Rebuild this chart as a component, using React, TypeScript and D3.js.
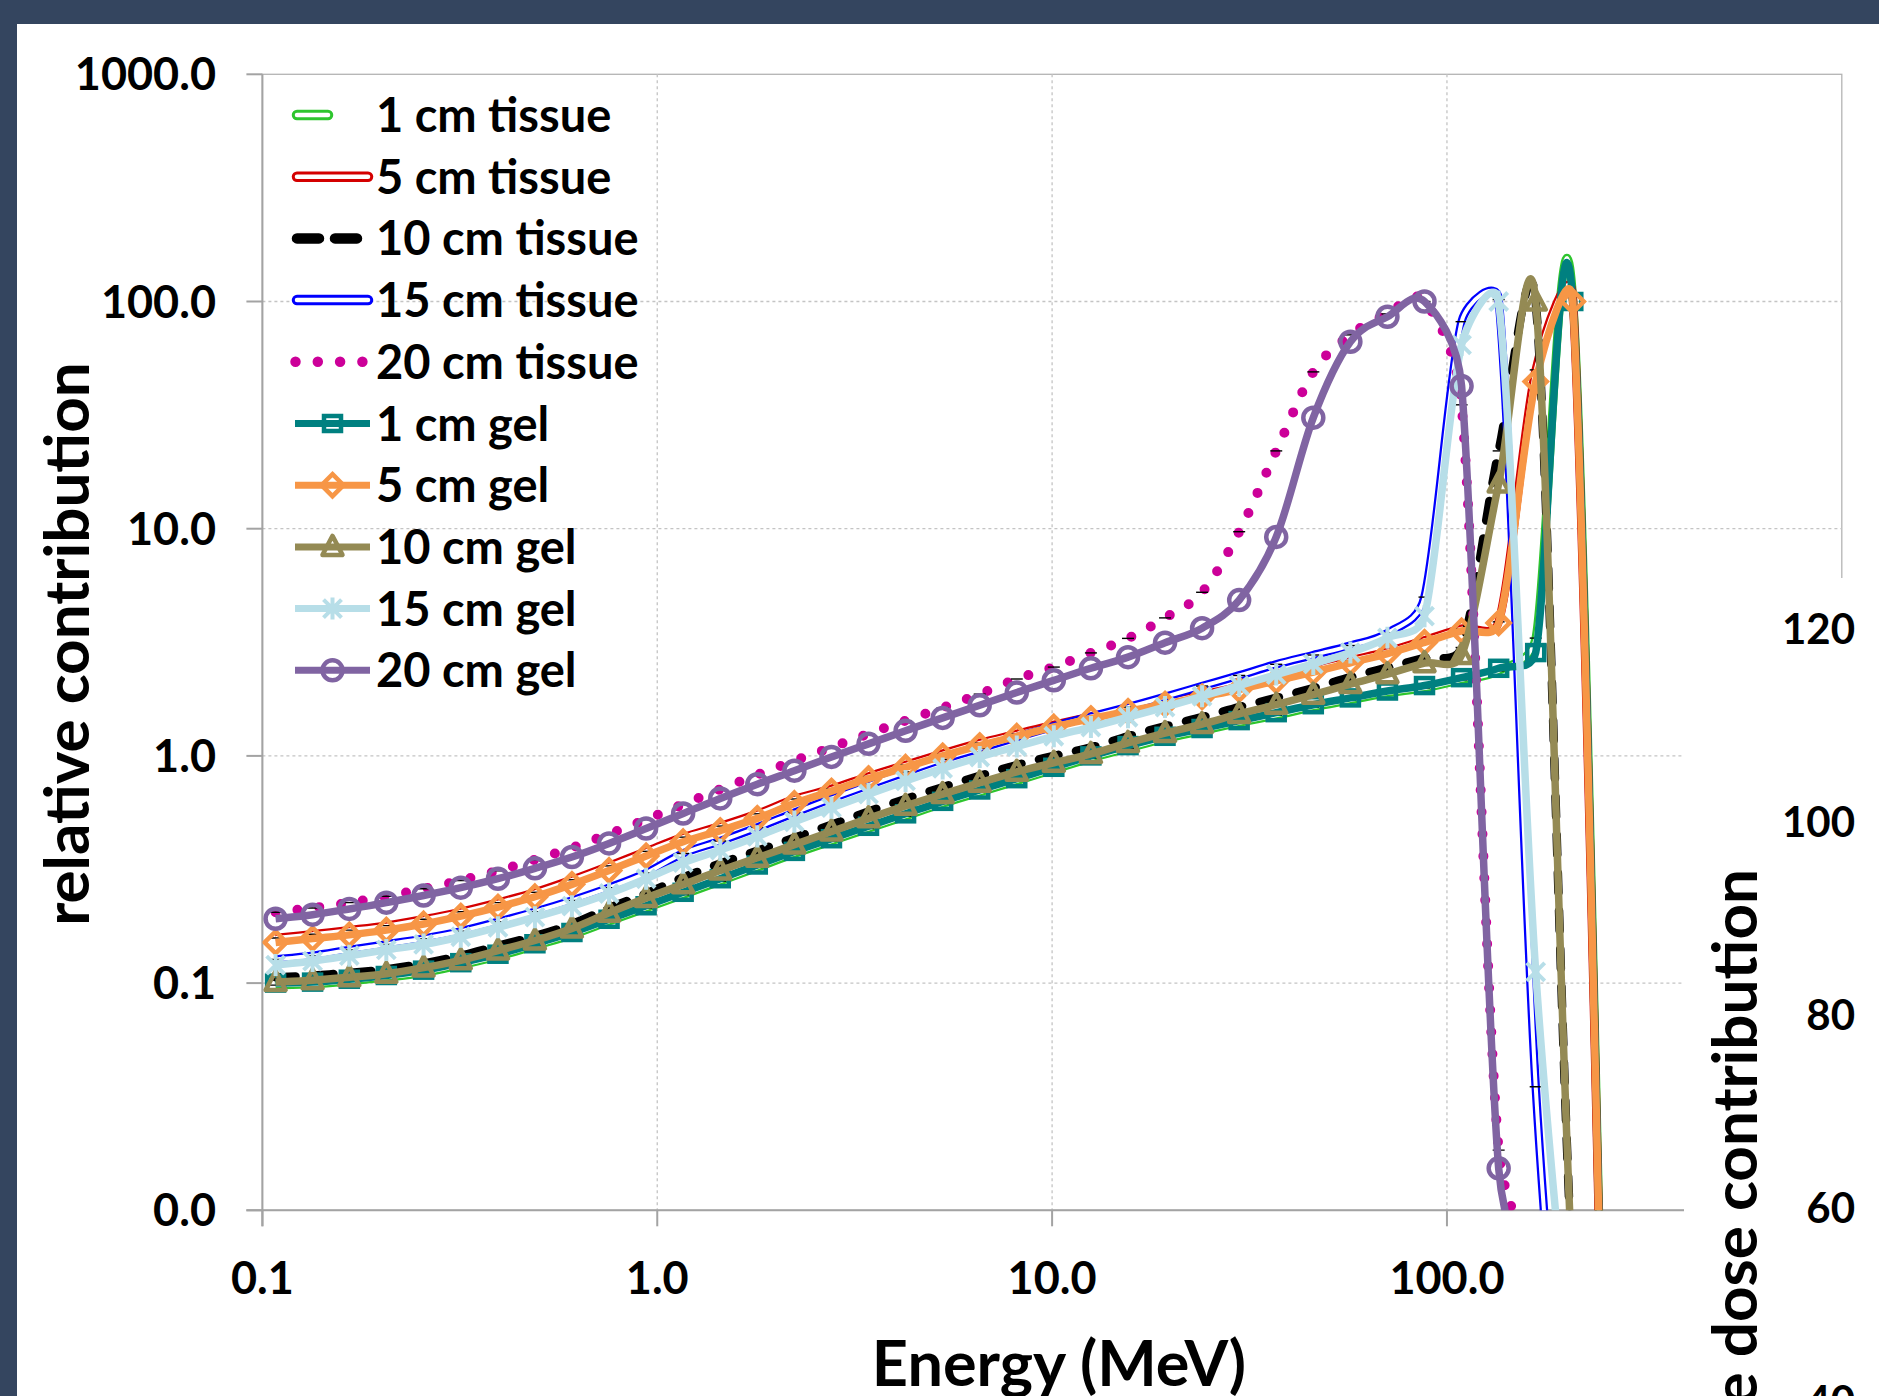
import { useEffect, useRef } from 'react';
import * as d3 from 'd3';

// energy bins (MeV), one point per bin
const energies = [0.108, 0.134, 0.166, 0.206, 0.256, 0.318, 0.395, 0.49, 0.608, 0.755,
  0.937, 1.163, 1.444, 1.792, 2.225, 2.762, 3.428, 4.255, 5.282, 6.556,
  8.138, 10.1, 12.54, 15.57, 19.32, 23.98, 29.77, 36.95, 45.87, 56.94,
  70.68, 87.73, 108.9, 135.2, 167.8, 208.3, 258.5];

const tissue1 = [0.098, 0.099, 0.102, 0.106, 0.111, 0.12, 0.131, 0.146, 0.163, 0.187,
  0.214, 0.245, 0.281, 0.323, 0.371, 0.422, 0.479, 0.543, 0.617, 0.692,
  0.776, 0.871, 0.977, 1.08, 1.19, 1.29, 1.4, 1.51, 1.64, 1.76,
  1.89, 1.99, 2.16, 2.37, 3.3, 105, 0.00007];
const tissue5 = [0.158, 0.164, 0.171, 0.179, 0.191, 0.206, 0.226, 0.251, 0.285, 0.328,
  0.38, 0.439, 0.491, 0.556, 0.646, 0.716, 0.812, 0.912, 1.023, 1.14,
  1.25, 1.37, 1.49, 1.61, 1.73, 1.86, 2.01, 2.19, 2.39, 2.63,
  2.88, 3.23, 3.63, 3.89, 50, 105, 0.00007];
const tissue10 = [0.106, 0.108, 0.111, 0.115, 0.122, 0.132, 0.146, 0.161, 0.182, 0.214,
  0.248, 0.292, 0.336, 0.382, 0.436, 0.498, 0.569, 0.646, 0.728, 0.817,
  0.912, 1.0, 1.09, 1.22, 1.35, 1.48, 1.64, 1.8, 1.99, 2.22,
  2.45, 2.7, 3.0, 22, 100, 0.005, 0.0001];
const tissue15 = [0.127, 0.132, 0.14, 0.148, 0.157, 0.169, 0.186, 0.206, 0.231, 0.263,
  0.305, 0.372, 0.422, 0.484, 0.562, 0.649, 0.744, 0.85, 0.966, 1.08,
  1.21, 1.35, 1.49, 1.64, 1.82, 2.03, 2.26, 2.53, 2.78, 3.06,
  3.47, 5.0, 81.5, 102, 0.035, 0.0003];
const tissue20 = [0.205, 0.214, 0.226, 0.241, 0.26, 0.283, 0.312, 0.349, 0.394, 0.453,
  0.525, 0.612, 0.713, 0.826, 0.951, 1.09, 1.25, 1.43, 1.63, 1.87,
  2.18, 2.46, 2.84, 3.29, 4.05, 5.25, 9.7, 22, 49, 71.3,
  88.2, 100, 35.1, 0.0184, 0.006];
const gel1 = [0.1, 0.101, 0.104, 0.108, 0.114, 0.123, 0.134, 0.149, 0.167, 0.191,
  0.219, 0.251, 0.288, 0.331, 0.38, 0.432, 0.49, 0.556, 0.631, 0.708,
  0.794, 0.891, 1.0, 1.11, 1.22, 1.32, 1.43, 1.55, 1.68, 1.8,
  1.93, 2.04, 2.21, 2.43, 2.85, 100, 0.00007];
const gel5 = [0.151, 0.157, 0.163, 0.171, 0.182, 0.197, 0.216, 0.24, 0.272, 0.313,
  0.363, 0.419, 0.469, 0.531, 0.617, 0.7, 0.794, 0.891, 1.0, 1.11,
  1.22, 1.34, 1.46, 1.57, 1.69, 1.82, 1.96, 2.14, 2.34, 2.57,
  2.82, 3.16, 3.55, 3.85, 44.4, 100, 0.00007];
const gel10 = [0.101, 0.103, 0.106, 0.11, 0.117, 0.126, 0.139, 0.154, 0.174, 0.204,
  0.237, 0.272, 0.313, 0.356, 0.407, 0.465, 0.531, 0.603, 0.679, 0.762,
  0.851, 0.933, 1.02, 1.14, 1.26, 1.38, 1.53, 1.68, 1.86, 2.07,
  2.29, 2.56, 2.78, 15.8, 100, 0.005, 0.0001];
const gel15 = [0.12, 0.125, 0.132, 0.14, 0.148, 0.16, 0.176, 0.195, 0.218, 0.248,
  0.288, 0.339, 0.385, 0.442, 0.513, 0.592, 0.679, 0.776, 0.881, 0.989,
  1.1, 1.22, 1.34, 1.48, 1.64, 1.83, 2.04, 2.28, 2.54, 2.85,
  3.31, 4.12, 64.4, 100, 0.112, 0.0016];
const gel20 = [0.192, 0.2, 0.212, 0.226, 0.243, 0.263, 0.288, 0.32, 0.359, 0.412,
  0.479, 0.558, 0.65, 0.751, 0.861, 0.99, 1.13, 1.29, 1.47, 1.67,
  1.9, 2.15, 2.43, 2.72, 3.15, 3.65, 4.85, 9.2, 30.8, 66.5,
  85.7, 100, 42.5, 0.0153, 0.004];

const seriesNames = ['1 cm tissue', '5 cm tissue', '10 cm tissue', '15 cm tissue', '20 cm tissue',
  '1 cm gel', '5 cm gel', '10 cm gel', '15 cm gel', '20 cm gel'];
const seriesValues = [tissue1, tissue5, tissue10, tissue15, tissue20, gel1, gel5, gel10, gel15, gel20];

const xTickValues = [0.1, 1, 10, 100, 1000];
const xLabelValues = [0.1, 1, 10, 100];
const yTickValues = [0.01, 0.1, 1, 10, 100, 1000];
const rightTickValues = [40, 60, 80, 100, 120];

type Kind = 'double' | 'dash' | 'dot' | 'marker';
type SeriesStyle = { color: string; kind: Kind; marker?: string };

const seriesStyles: SeriesStyle[] = [
  { color: '#2ec52e', kind: 'double' },
  { color: '#d40000', kind: 'double' },
  { color: '#000000', kind: 'dash' },
  { color: '#0000ff', kind: 'double' },
  { color: '#cc0099', kind: 'dot' },
  { color: '#008080', kind: 'marker', marker: 'square' },
  { color: '#f79646', kind: 'marker', marker: 'diamond' },
  { color: '#948a54', kind: 'marker', marker: 'triangle' },
  { color: '#b7dee8', kind: 'marker', marker: 'star' },
  { color: '#8064a2', kind: 'marker', marker: 'circle' },
];

const W = 1879;
const H = 1396;
const FONT = 'Lato, "Open Sans", sans-serif';

// Excel-like smoothed line: cubic Bezier with (next - prev) / 6 tangents,
// each control arm capped at half of its segment's length
function smoothPath(pts: [number, number][]): string {
  const p = d3.path();
  const n = pts.length;
  if (!n) return '';
  const tan = pts.map((_, i) => {
    const a = pts[Math.max(0, i - 1)];
    const b = pts[Math.min(n - 1, i + 1)];
    return [(b[0] - a[0]) / 6, (b[1] - a[1]) / 6];
  });
  p.moveTo(pts[0][0], pts[0][1]);
  for (let i = 0; i < n - 1; i++) {
    const P0 = pts[i], P1 = pts[i + 1];
    const len = Math.hypot(P1[0] - P0[0], P1[1] - P0[1]);
    const cap = (t: number[]) => {
      const m = Math.hypot(t[0], t[1]);
      const s = m > 0.5 * len ? (0.5 * len) / m : 1;
      return [t[0] * s, t[1] * s];
    };
    const t0 = cap(tan[i]);
    const t1 = cap(tan[i + 1]);
    p.bezierCurveTo(P0[0] + t0[0], P0[1] + t0[1], P1[0] - t1[0], P1[1] - t1[1], P1[0], P1[1]);
  }
  return p.toString();
}

function drawMarker(g: any, type: string, cx: number, cy: number, color: string) {
  const sw = 4.5;
  if (type === 'square') {
    g.append('rect').attr('x', cx - 8.5).attr('y', cy - 7.5).attr('width', 17).attr('height', 15)
      .attr('fill', 'none').attr('stroke', color).attr('stroke-width', sw);
  } else if (type === 'diamond') {
    g.append('path').attr('d', `M${cx},${cy - 11}L${cx + 11},${cy}L${cx},${cy + 11}L${cx - 11},${cy}Z`)
      .attr('fill', 'none').attr('stroke', color).attr('stroke-width', sw);
  } else if (type === 'triangle') {
    g.append('path').attr('d', `M${cx},${cy - 11}L${cx + 10},${cy + 8}L${cx - 10},${cy + 8}Z`)
      .attr('fill', 'none').attr('stroke', color).attr('stroke-width', sw).attr('stroke-linejoin', 'round');
  } else if (type === 'star') {
    g.append('path')
      .attr('d', `M${cx - 9},${cy - 9}L${cx + 9},${cy + 9}M${cx - 9},${cy + 9}L${cx + 9},${cy - 9}M${cx},${cy - 11}L${cx},${cy + 11}`)
      .attr('fill', 'none').attr('stroke', color).attr('stroke-width', 4);
  } else if (type === 'circle') {
    g.append('circle').attr('cx', cx).attr('cy', cy).attr('r', 10)
      .attr('fill', 'none').attr('stroke', color).attr('stroke-width', sw);
  }
}

export default function App() {
  const svgRef = useRef<SVGSVGElement>(null);

  useEffect(() => {
    if (!svgRef.current) return;
    const svg = d3.select(svgRef.current);
    svg.selectAll('*').remove();

    const left = 262.4, right = 1841.8, top = 74.3, bottom = 1210.3;
    const x = d3.scaleLog().domain([0.1, 1000]).range([left, right]);
    const y = d3.scaleLog().domain([0.01, 1000]).range([bottom, top]);
    const fmt = d3.format('.1f');

    // slide background
    svg.append('rect').attr('width', W).attr('height', H).attr('fill', '#34455f');
    svg.append('rect').attr('x', 17).attr('y', 24).attr('width', W - 17).attr('height', H - 24).attr('fill', '#ffffff');

    // plot border + grid
    svg.append('rect').attr('x', left).attr('y', top).attr('width', right - left).attr('height', bottom - top)
      .attr('fill', 'none').attr('stroke', '#b4b4b4').attr('stroke-width', 1.3);
    svg.append('g').selectAll('line').data(yTickValues.slice(1, -1)).enter().append('line')
      .attr('x1', left).attr('x2', right).attr('y1', d => y(d)).attr('y2', d => y(d))
      .attr('stroke', '#c4c4c4').attr('stroke-width', 1.3).attr('stroke-dasharray', '3,3');
    svg.append('g').selectAll('line').data(xTickValues.slice(1, -1)).enter().append('line')
      .attr('x1', d => x(d)).attr('x2', d => x(d)).attr('y1', top).attr('y2', bottom)
      .attr('stroke', '#c4c4c4').attr('stroke-width', 1.3).attr('stroke-dasharray', '3,3');

    // axes lines and ticks
    const axisColor = '#a3a3a3';
    svg.append('line').attr('x1', left).attr('x2', left).attr('y1', top).attr('y2', bottom + 16)
      .attr('stroke', axisColor).attr('stroke-width', 2);
    svg.append('line').attr('x1', left - 16).attr('x2', right).attr('y1', bottom).attr('y2', bottom)
      .attr('stroke', axisColor).attr('stroke-width', 2);
    svg.append('g').selectAll('line').data(yTickValues).enter().append('line')
      .attr('x1', left - 16).attr('x2', left).attr('y1', d => y(d)).attr('y2', d => y(d))
      .attr('stroke', axisColor).attr('stroke-width', 2);
    svg.append('g').selectAll('line').data(xTickValues).enter().append('line')
      .attr('x1', d => x(d)).attr('x2', d => x(d)).attr('y1', bottom).attr('y2', bottom + 16)
      .attr('stroke', axisColor).attr('stroke-width', 2);

    // tick labels
    svg.append('g').selectAll('text').data(yTickValues).enter().append('text')
      .attr('x', 216).attr('y', d => y(d) + 16).attr('text-anchor', 'end')
      .attr('font-family', FONT).attr('font-weight', 'bold').attr('font-size', 45).attr('fill', '#000')
      .text(d => fmt(d));
    svg.append('g').selectAll('text').data(xLabelValues).enter().append('text')
      .attr('x', d => x(d)).attr('y', 1294).attr('text-anchor', 'middle')
      .attr('font-family', FONT).attr('font-weight', 'bold').attr('font-size', 45).attr('fill', '#000')
      .text(d => fmt(d));

    // axis titles
    svg.append('text').attr('x', 1059).attr('y', 1386).attr('text-anchor', 'middle')
      .attr('font-family', FONT).attr('font-weight', 'bold').attr('font-size', 63).attr('fill', '#000')
      .text('Energy (MeV)');
    svg.append('text').attr('transform', 'translate(89,644) rotate(-90)').attr('text-anchor', 'middle')
      .attr('font-family', FONT).attr('font-weight', 'bold').attr('font-size', 62).attr('fill', '#000')
      .text('relative contribution');

    // series
    svg.append('clipPath').attr('id', 'plotClip').append('rect')
      .attr('x', left).attr('y', top).attr('width', right - left).attr('height', bottom - top);
    const plot = svg.append('g').attr('clip-path', 'url(#plotClip)');

    seriesValues.forEach((vals, i) => {
      const st = seriesStyles[i];
      const pts: [number, number][] = vals.map((v, k) => [x(energies[k]), y(v)]);
      const d = smoothPath(pts);
      if (st.kind === 'double') {
        plot.append('path').attr('d', d).attr('fill', 'none').attr('stroke', st.color).attr('stroke-width', 8.5);
        plot.append('path').attr('d', d).attr('fill', 'none').attr('stroke', '#ffffff').attr('stroke-width', 4);
      } else if (st.kind === 'dash') {
        plot.append('path').attr('d', d).attr('fill', 'none').attr('stroke', st.color).attr('stroke-width', 8.5)
          .attr('stroke-dasharray', '20 18').attr('stroke-linecap', 'round');
      } else if (st.kind === 'dot') {
        plot.append('path').attr('d', d).attr('fill', 'none').attr('stroke', st.color).attr('stroke-width', 10)
          .attr('stroke-dasharray', '0 22').attr('stroke-linecap', 'round');
      } else {
        plot.append('path').attr('d', d).attr('fill', 'none').attr('stroke', st.color).attr('stroke-width', 7.5);
      }
      if (st.kind === 'marker') {
        pts.forEach(p => drawMarker(plot, st.marker as string, p[0], p[1], st.color));
      } else {
        // thin dash markers on tissue curves
        pts.forEach(p => {
          plot.append('line').attr('x1', p[0] - 6).attr('x2', p[0] + 6)
            .attr('y1', p[1]).attr('y2', p[1]).attr('stroke', '#000').attr('stroke-width', 1.4);
        });
      }
    });

    // legend
    const legend = svg.append('g');
    seriesNames.forEach((name, i) => {
      const st = seriesStyles[i];
      const cy = 115 + i * 61.7;
      if (st.kind === 'double') {
        const x2 = i === 0 ? 328 : 368;
        legend.append('line').attr('x1', 297).attr('x2', x2).attr('y1', cy).attr('y2', cy)
          .attr('stroke', st.color).attr('stroke-width', 10.5).attr('stroke-linecap', 'round');
        legend.append('line').attr('x1', 297).attr('x2', x2).attr('y1', cy).attr('y2', cy)
          .attr('stroke', '#ffffff').attr('stroke-width', 4.5).attr('stroke-linecap', 'round');
      } else if (st.kind === 'dash') {
        legend.append('line').attr('x1', 297).attr('x2', 362).attr('y1', cy).attr('y2', cy)
          .attr('stroke', st.color).attr('stroke-width', 10.5).attr('stroke-linecap', 'round')
          .attr('stroke-dasharray', '22 16');
      } else if (st.kind === 'dot') {
        legend.append('line').attr('x1', 295.5).attr('x2', 364).attr('y1', cy).attr('y2', cy)
          .attr('stroke', st.color).attr('stroke-width', 10.5).attr('stroke-linecap', 'round')
          .attr('stroke-dasharray', '0 22.3');
      } else {
        legend.append('line').attr('x1', 295).attr('x2', 370).attr('y1', cy).attr('y2', cy)
          .attr('stroke', st.color).attr('stroke-width', 7);
        drawMarker(legend, st.marker as string, 332.5, cy, st.color);
      }
      legend.append('text').attr('x', 376).attr('y', cy + 17)
        .attr('font-family', FONT).attr('font-weight', 'bold').attr('font-size', 47).attr('fill', '#000')
        .text(name);
    });

    // second chart panel overlapping the lower right corner
    const yr = d3.scaleLinear().domain([40, 120]).range([1401, 628.6]);
    svg.append('rect').attr('x', 1684).attr('y', 578).attr('width', W - 1684).attr('height', H - 578).attr('fill', '#ffffff');
    svg.append('g').selectAll('text').data(rightTickValues).enter().append('text')
      .attr('x', 1855).attr('y', d => yr(d) + 15).attr('text-anchor', 'end')
      .attr('font-family', FONT).attr('font-weight', 'bold').attr('font-size', 42).attr('fill', '#000')
      .text(d => String(d));
    svg.append('text').attr('transform', 'translate(1757,869) rotate(-90)').attr('text-anchor', 'end')
      .attr('font-family', FONT).attr('font-weight', 'bold').attr('font-size', 62).attr('fill', '#000')
      .text('relative dose contribution');
  }, []);

  return (
    <div style={{ position: 'absolute', left: 0, top: 0 }}>
      <svg ref={svgRef} width={W} height={H} style={{ display: 'block' }} />
    </div>
  );
}
